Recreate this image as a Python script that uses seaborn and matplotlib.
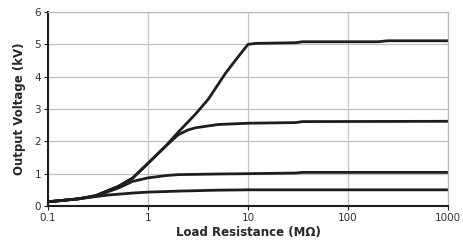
import matplotlib
matplotlib.use("Agg")
import matplotlib.pyplot as plt
import seaborn as sns
import pandas as pd
from matplotlib.ticker import FixedLocator, FixedFormatter, NullLocator

# Data (load resistance in MOhm, output voltage in kV)
x_5kv = [0.1, 0.2, 0.3, 0.5, 0.7, 1, 1.5, 2, 3, 4, 5, 6, 8, 10, 12, 30, 35, 200, 250, 1000]
v_5kv = [0.13, 0.22, 0.32, 0.6, 0.86, 1.32, 1.85, 2.28, 2.85, 3.3, 3.75, 4.12, 4.62, 5.0, 5.03, 5.05, 5.08, 5.08, 5.11, 5.11]

x_2kv = [0.1, 0.2, 0.3, 0.5, 0.7, 1, 1.5, 2, 2.5, 3, 5, 10, 30, 35, 1000]
v_2kv = [0.13, 0.22, 0.32, 0.6, 0.86, 1.32, 1.85, 2.2, 2.35, 2.42, 2.52, 2.56, 2.58, 2.61, 2.62]

x_1kv = [0.1, 0.2, 0.3, 0.5, 0.7, 1, 1.5, 2, 5, 10, 30, 35, 1000]
v_1kv = [0.13, 0.22, 0.31, 0.55, 0.76, 0.87, 0.94, 0.97, 0.99, 1.0, 1.02, 1.04, 1.04]

x_05kv = [0.1, 0.2, 0.3, 0.4, 0.7, 1, 2, 5, 10, 30, 1000]
v_05kv = [0.13, 0.22, 0.29, 0.34, 0.4, 0.43, 0.46, 0.49, 0.5, 0.5, 0.5]

x_ticks = [0.1, 1, 10, 100, 1000]
x_tick_labels = ["0.1", "1", "10", "100", "1000"]
y_ticks = [0, 1, 2, 3, 4, 5, 6]

frames = []
for name, xs, vs in [("5", x_5kv, v_5kv), ("2.6", x_2kv, v_2kv),
                     ("1", x_1kv, v_1kv), ("0.5", x_05kv, v_05kv)]:
    frames.append(pd.DataFrame({"R": xs, "V": vs, "series": name}))
df = pd.concat(frames, ignore_index=True)

sns.set_style("white")
fig = plt.figure(figsize=(4.63, 2.5), dpi=100)
ax = fig.add_axes([48/463, 1-206/250, 400/463, 194/250])

sns.lineplot(data=df, x="R", y="V", hue="series", units="series", estimator=None,
             sort=False, palette=["#1e1e1e"]*4, linewidth=2.0, legend=False, ax=ax)

ax.set_xscale("log")
ax.set_xlim(0.1, 1000)
ax.set_ylim(0, 6)
ax.xaxis.set_major_locator(FixedLocator(x_ticks))
ax.xaxis.set_major_formatter(FixedFormatter(x_tick_labels))
ax.xaxis.set_minor_locator(NullLocator())
ax.set_yticks(y_ticks)
ax.grid(True, color="#c0c0c0", linewidth=0.9)
ax.set_axisbelow(True)

for s in ["top", "right"]:
    ax.spines[s].set_color("#b8b8b8")
    ax.spines[s].set_linewidth(0.9)
for s in ["left", "bottom"]:
    ax.spines[s].set_color("#1e1e1e")
    ax.spines[s].set_linewidth(1.5)

ax.tick_params(axis="both", which="major", length=3, width=0.8, color="#1e1e1e",
               labelsize=7.5, labelcolor="#333333", pad=2, direction="out",
               bottom=True, left=True)
ax.set_xlabel("Load Resistance (M\u03a9)", fontsize=8.5, fontweight="bold", labelpad=2)
ax.set_ylabel("Output Voltage (kV)", fontsize=8.5, fontweight="bold", labelpad=6)

fig.savefig("out.png", dpi=100)
